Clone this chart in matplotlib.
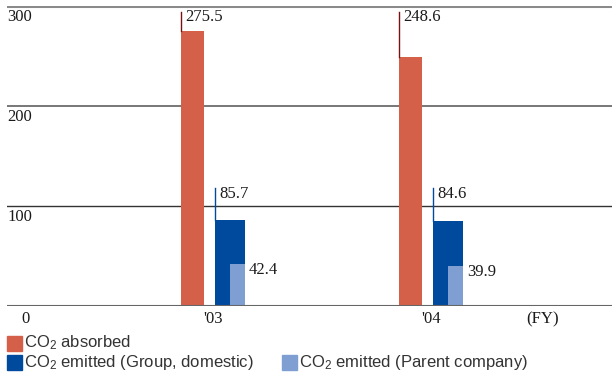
import matplotlib
matplotlib.use("Agg")
import matplotlib.pyplot as plt
from matplotlib.patches import Rectangle

years = ["'03", "'04"]
absorbed = [275.5, 248.6]
emitted_group = [85.7, 84.6]
emitted_parent = [42.4, 39.9]
yticks = [0, 100, 200, 300]

c_abs = "#D4604A"
c_grp = "#004A9E"
c_par = "#7F9FD3"

plt.rcParams["mathtext.fontset"] = "custom"
plt.rcParams["mathtext.rm"] = "Liberation Sans"
plt.rcParams["mathtext.it"] = "Liberation Sans"

fig = plt.figure(figsize=(6.12, 3.76), dpi=100)
W, H = 612, 376
ax = fig.add_axes([7 / W, 70 / H, 605 / W, 300 / H])
S = 218.0
ax.set_xlim((7 - 213) / S, (612 - 213) / S)
ax.set_ylim(0, 300)
ax.axis("off")

serif = "Liberation Serif"
sans = "Liberation Sans"
tc = "#1a1a1a"

# grid lines
ax.axhline(300, color="#8a8a8a", lw=2.2, zorder=1)
ax.axhline(200, color="#777777", lw=1.4, zorder=1)
ax.axhline(100, color="#333333", lw=1.0, zorder=1)
ax.axhline(0, color="#666666", lw=1.5, zorder=4)

xs = list(range(len(years)))
a_off, a_w = -20.5 / S, 23 / S
g_left, g_w = 2 / S, 30 / S
p_left, p_w = 17 / S, 15 / S

ax.bar([x + a_off for x in xs], absorbed, width=a_w, color=c_abs, zorder=2)
ax.bar([x + g_left for x in xs], emitted_group, width=g_w, align="edge", color=c_grp, zorder=2)
ax.bar([x + p_left for x in xs], emitted_parent, width=p_w, align="edge", color=c_par, zorder=3)

for x, a, g, p in zip(xs, absorbed, emitted_group, emitted_parent):
    lx = x + a_off - a_w / 2
    ax.plot([lx, lx], [a, 294], color="#7a1010", lw=1.0, zorder=3)
    ax.text(lx + 4 / S, 289, f"{a}", family=serif, fontsize=12, va="center", ha="left", color=tc)
    gx = x + g_left
    ax.plot([gx, gx], [g, 118], color=c_grp, lw=1.0, zorder=3)
    ax.text(gx + 4 / S, 112, f"{g}", family=serif, fontsize=12, va="center", ha="left", color=tc)
    px = x + p_left + p_w
    ax.text(px + 4 / S, p - 6, f"{p}", family=serif, fontsize=12, va="center", ha="left", color=tc)

# y tick labels (inside, under lines)
for v in yticks[1:]:
    ax.text((7 - 213) / S, v - 11, f"{v}", family=serif, fontsize=12, va="center", ha="left", color=tc)
ax.text((26 - 213) / S, -13, "0", family=serif, fontsize=12, va="center", ha="center", color=tc)

# x tick labels
for x, lab in zip(xs, years):
    ax.text(x, -13, lab, family=serif, fontsize=12, va="center", ha="center", color=tc, clip_on=False)
ax.text((543 - 213) / S, -13, "(FY)", family=serif, fontsize=12, va="center", ha="center", color=tc, clip_on=False)

# legend
def legend_item(x0, yc, color, label):
    fig.patches.append(Rectangle((x0 / W, (H - yc - 7.5) / H), 15 / W, 15 / H,
                                 transform=fig.transFigure, color=color, figure=fig))
    fig.text((x0 + 17) / W, (H - yc) / H, label, family=sans, fontsize=12, va="center", ha="left",
             color="#333333")

legend_item(7, 343, c_abs, "CO$_2$ absorbed")
legend_item(7, 362, c_grp, "CO$_2$ emitted (Group, domestic)")
legend_item(282, 362, c_par, "CO$_2$ emitted (Parent company)")

fig.savefig("out.png", dpi=100)
